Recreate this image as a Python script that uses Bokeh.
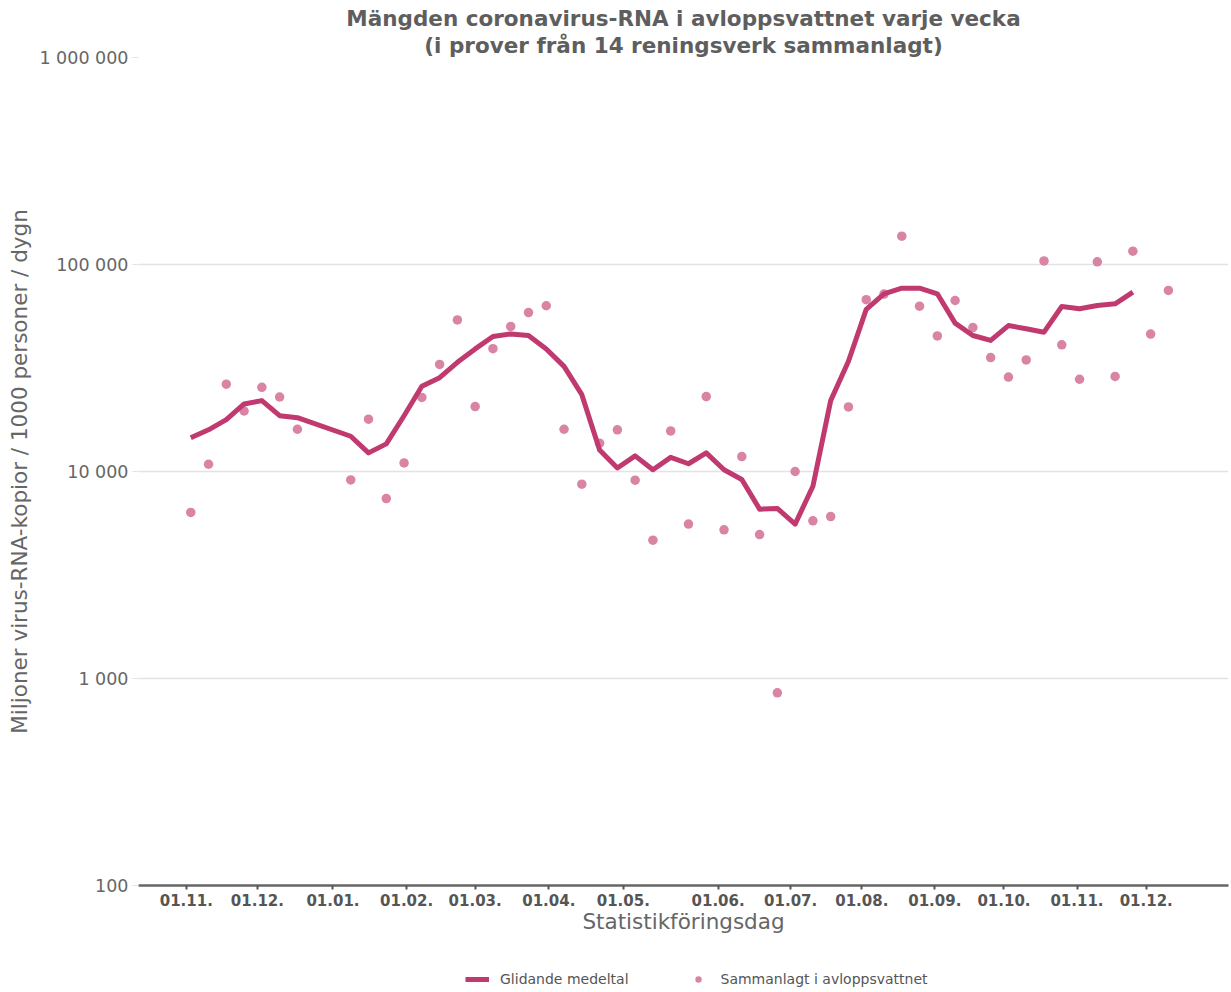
import numpy as np
from datetime import date
from bokeh.plotting import figure
from bokeh.layouts import column
from bokeh.models import (Range1d, FixedTicker, CustomJSTickFormatter, Legend,
                          LegendItem, Title)
from bokeh.embed import file_html
from bokeh.resources import INLINE

# ---------------- data ----------------
title_line1 = "Mängden coronavirus-RNA i avloppsvattnet varje vecka"
title_line2 = "(i prover från 14 reningsverk sammanlagt)"
x_title = "Statistikföringsdag"
y_title = "Miljoner virus-RNA-kopior / 1000 personer / dygn"
line_name = "Glidande medeltal"
dot_name = "Sammanlagt i avloppsvattnet"

sample_dates = [
    "2021-11-03", "2021-11-11", "2021-11-18", "2021-11-25", "2021-12-03", "2021-12-10",
    "2021-12-18", "2021-12-25", "2022-01-01", "2022-01-09", "2022-01-16", "2022-01-23",
    "2022-01-31", "2022-02-07", "2022-02-14", "2022-02-22", "2022-03-01", "2022-03-09",
    "2022-03-16", "2022-03-23", "2022-03-31", "2022-04-07", "2022-04-14", "2022-04-22",
    "2022-04-29", "2022-05-05", "2022-05-11", "2022-05-16", "2022-05-22", "2022-05-28",
    "2022-06-03", "2022-06-10", "2022-06-18", "2022-06-25", "2022-07-03", "2022-07-11",
    "2022-07-18", "2022-07-26", "2022-08-03", "2022-08-10", "2022-08-18", "2022-08-26",
    "2022-09-02", "2022-09-10", "2022-09-17", "2022-09-25", "2022-10-03", "2022-10-10",
    "2022-10-18", "2022-10-26", "2022-11-02", "2022-11-10", "2022-11-18", "2022-11-25",
    "2022-12-03", "2022-12-10",
]

weekly_total = [
    6340, 10840, 26400, 19600, 25500, 22900,
    16000, None, None, 9100, 17900, 7400,
    11000, 22800, 32900, 54000, 20600, 39200,
    50200, 58600, 63200, 16000, 8680, 13700,
    15900, 9080, 4660, 15700, 5570, 23000,
    5230, 11800, 4960, 853, 10000, 5780,
    6060, 20500, 67600, 72000, 137000, 62900,
    45200, 67000, 49600, 35500, 28600, 34600,
    104000, 40900, 27900, 103000, 28800, 116000,
    46100, 74900,
]

moving_avg = [
    14550, 15900, 17800, 21200, 22000, 18600,
    18200, None, None, 14800, 12300, 13600,
    18600, 25800, 28400, 33700, 39100, 44900,
    46200, 45400, 39100, 32200, 23500, 12700,
    10400, 11900, 10200, 11700, 10900, 12300,
    10200, 9150, 6580, 6630, 5570, 8490,
    22000, 34100, 60700, 72200, 76800, 76800,
    72200, 52100, 45400, 43000, 50700, 48900,
    47100, 62700, 61100, 63400, 64600, 73500,
    None, None,
]

month_ticks = [
    "2021-11-01", "2021-12-01", "2022-01-01", "2022-02-01", "2022-03-01",
    "2022-04-01", "2022-05-01", "2022-06-01", "2022-07-01", "2022-08-01",
    "2022-09-01", "2022-10-01", "2022-11-01", "2022-12-01",
]
y_ticks = [100, 1000, 10000, 100000, 1000000]

# ---------------- ordinal (equally spaced samples) x axis ----------------
day = np.array([date.fromisoformat(d).toordinal() for d in sample_dates], dtype=float)
idx = np.arange(len(sample_dates), dtype=float)


def to_ordinal(d):
    t = date.fromisoformat(d).toordinal()
    if t < day[0]:
        return (t - day[0]) / (day[1] - day[0])
    if t > day[-1]:
        return idx[-1] + (t - day[-1]) / (day[-1] - day[-2])
    return float(np.interp(t, day, idx))


tick_pos = [to_ordinal(d) for d in month_ticks]
tick_lab = [date.fromisoformat(d).strftime("%d.%m.") for d in month_ticks]

dot_x = [float(i) for i, v in zip(idx, weekly_total) if v is not None]
dot_y = [v for v in weekly_total if v is not None]
line_x = [float(i) for i, v in zip(idx, moving_avg) if v is not None]
line_y = [v for v in moving_avg if v is not None]

FONT = "DejaVu Sans"
LINE_COLOR = "#c0396f"
DOT_COLOR = "#da84a5"
GRID = "#e3e3e3"
LEG_H = 30

p = figure(width=1231, height=992 - LEG_H, y_axis_type="log",
           x_range=Range1d(-2.94, 58.38), y_range=Range1d(100, 1000000),
           output_backend="svg", toolbar_location=None,
           min_border_left=138, min_border_right=3, min_border_top=57,
           min_border_bottom=107 - LEG_H)
p.outline_line_color = None
p.background_fill_color = "white"
p.border_fill_color = "white"
p.title.visible = False

# two centred title lines (line 2 is nearest to the plot)
for txt in (title_line2, title_line1):
    t = Title(text=txt, align="center", text_font=FONT, text_font_size="21.5px",
              text_font_style="bold", text_color="#5e5e5e", standoff=0,
              text_line_height=1.0)
    p.add_layout(t, "above")

dots = p.scatter(x=dot_x, y=dot_y, size=9.5, fill_color=DOT_COLOR, line_color=None)
line = p.line(x=line_x, y=line_y, line_width=5, line_color=LINE_COLOR,
              line_join="round", line_cap="butt")

# x axis
xa = p.xaxis[0]
xa.ticker = FixedTicker(ticks=tick_pos, minor_ticks=[])
xa.formatter = CustomJSTickFormatter(args=dict(pos=tick_pos, lab=tick_lab), code="""
let b = 0;
for (let k = 0; k < pos.length; k++) {
  if (Math.abs(pos[k] - tick) < Math.abs(pos[b] - tick)) b = k;
}
return lab[b];
""")
xa.axis_label = x_title
xa.axis_label_text_font = FONT
xa.axis_label_text_font_size = "21.5px"
xa.axis_label_text_font_style = "normal"
xa.axis_label_text_color = "#666666"
xa.axis_label_standoff = 0
xa.major_label_text_font = FONT
xa.major_label_text_font_size = "15px"
xa.major_label_text_font_style = "bold"
xa.major_label_text_color = "#555555"
xa.major_label_standoff = 4
xa.axis_line_color = "#666666"
xa.axis_line_width = 2.5
xa.major_tick_line_color = "#555555"
xa.major_tick_line_width = 2
xa.major_tick_out = 4
xa.major_tick_in = 0
xa.minor_tick_line_color = None

# y axis
ya = p.yaxis[0]
ya.ticker = FixedTicker(ticks=y_ticks, minor_ticks=[])
ya.formatter = CustomJSTickFormatter(code=r"""
return Math.round(tick).toString().replace(/\B(?=(\d{3})+(?!\d))/g, ' ');
""")
ya.axis_label = y_title
ya.axis_label_text_font = FONT
ya.axis_label_text_font_size = "21.5px"
ya.axis_label_text_font_style = "normal"
ya.axis_label_text_color = "#666666"
ya.axis_label_standoff = 4
ya.major_label_text_font = FONT
ya.major_label_text_font_size = "17.5px"
ya.major_label_text_color = "#666666"
ya.major_label_standoff = 4
ya.axis_line_color = None
ya.major_tick_line_color = GRID
ya.major_tick_out = 6
ya.major_tick_in = 0
ya.minor_tick_line_color = None

p.xgrid.grid_line_color = None
p.ygrid.grid_line_color = GRID
p.ygrid.grid_line_width = 1.5
p.ygrid.ticker = FixedTicker(ticks=y_ticks, minor_ticks=[])

# ---------------- legend strip below the chart ----------------
leg = figure(width=1231, height=LEG_H, x_range=Range1d(0, 1), y_range=Range1d(0, 1),
             output_backend="svg", toolbar_location=None,
             x_axis_location=None, y_axis_location=None,
             min_border_left=0, min_border_right=0, min_border_top=0, min_border_bottom=0)
leg.outline_line_color = None
leg.xgrid.visible = False
leg.ygrid.visible = False
leg.title.visible = False
# legend-only renderers (no drawable data)
leg_line = leg.line(x=[np.nan], y=[np.nan], line_width=5, line_color=LINE_COLOR)
leg_dot = leg.scatter(x=[np.nan], y=[np.nan], size=9.5, fill_color=DOT_COLOR,
                      line_color=None)

legend = Legend(items=[LegendItem(label=line_name, renderers=[leg_line]),
                       LegendItem(label=dot_name, renderers=[leg_dot])],
                orientation="horizontal", location=(327, 5),
                glyph_width=24, glyph_height=16, label_standoff=11, spacing=57,
                padding=0, margin=0, border_line_color=None,
                background_fill_alpha=0,
                label_text_font=FONT, label_text_font_size="14px",
                label_text_color="#555555")
leg.add_layout(legend, "center")

layout = column(p, leg, spacing=0)
open("out.html", "w").write(file_html(layout, INLINE))
